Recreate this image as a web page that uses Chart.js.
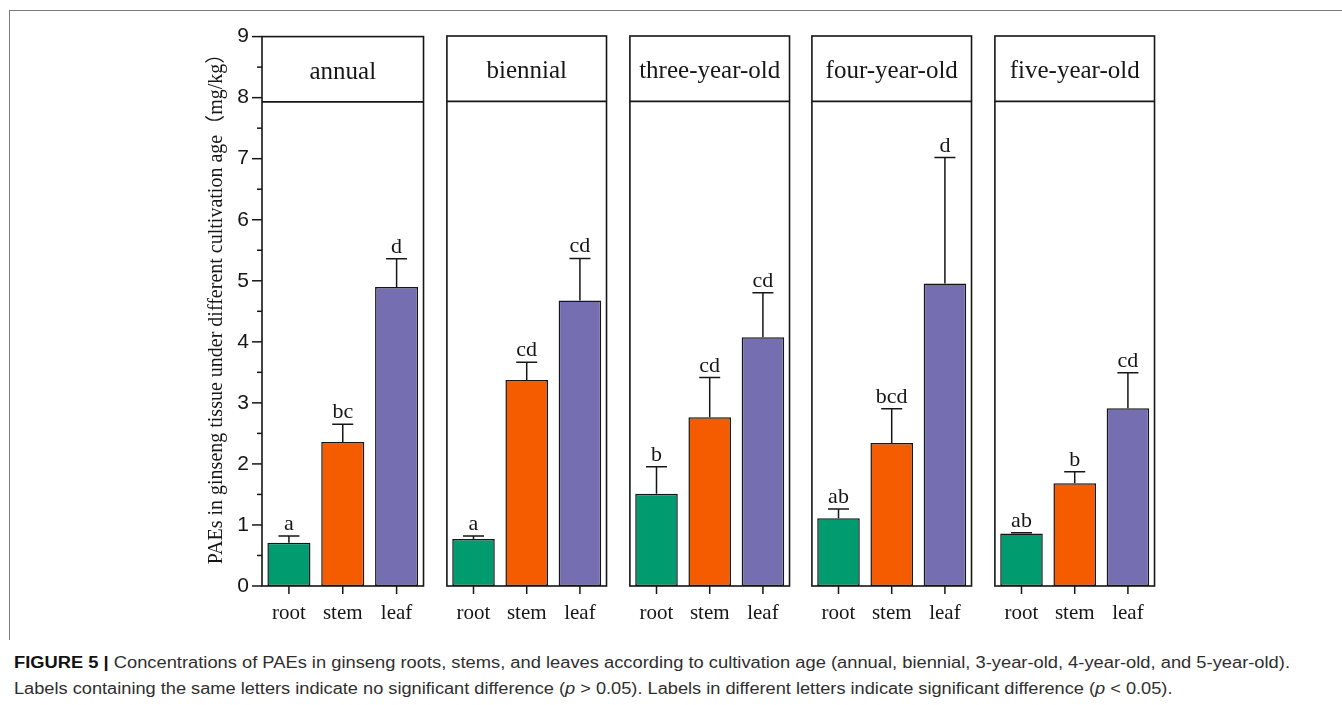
<!DOCTYPE html>
<html>
<head>
<meta charset="utf-8">
<script src="https://cdn.jsdelivr.net/npm/chart.js@4.4.1/dist/chart.umd.min.js"></script>
<style>
  html, body { margin: 0; padding: 0; background: #fff; }
  #page { position: relative; width: 1342px; height: 705px; overflow: hidden; background: #fff; }
  #page canvas { position: absolute; }
  .rule-top { position: absolute; left: 9px; top: 10px; width: 1333px; height: 1px; background: #7a7a7a; }
  .rule-left { position: absolute; left: 9px; top: 10px; width: 1px; height: 630px; background: #7a7a7a; }
  .caption { position: absolute; left: 14px; font-family: 'Liberation Sans', Arial, sans-serif; font-size: 16px;
             line-height: 26px; color: #2e2e2e; white-space: nowrap; transform-origin: 0 0; }
  .caption b { color: #111; }
</style>
</head>
<body>
<div id="page">
  <div class="rule-top"></div>
  <div class="rule-left"></div>
  <div class="caption" id="cap1" data-width="1276" style="top:650px"><b>FIGURE 5 |</b> Concentrations of PAEs in ginseng roots, stems, and leaves according to cultivation age (annual, biennial, 3-year-old, 4-year-old, and 5-year-old).</div>
  <div class="caption" id="cap2" data-width="1158" style="top:676px">Labels containing the same letters indicate no significant difference (<i>p</i> &gt; 0.05). Labels in different letters indicate significant difference (<i>p</i> &lt; 0.05).</div>
</div>
<script>
// Cultivation-age panels and tissue categories
const ages = ['annual', 'biennial', 'three-year-old', 'four-year-old', 'five-year-old'];
const tissues = ['root', 'stem', 'leaf'];

// Mean PAE concentration (mg/kg) and standard deviation per age
const rootMean = [0.71, 0.77, 1.51, 1.11, 0.86];
const rootSD   = [0.11, 0.05, 0.44, 0.15, 0.01];
const stemMean = [2.36, 3.37, 2.76, 2.34, 1.68];
const stemSD   = [0.29, 0.29, 0.65, 0.56, 0.19];
const leafMean = [4.90, 4.67, 4.07, 4.95, 2.91];
const leafSD   = [0.46, 0.69, 0.73, 2.06, 0.58];

// Significance letters per age
const rootLetters = ['a', 'a', 'b', 'ab', 'ab'];
const stemLetters = ['bc', 'cd', 'cd', 'bcd', 'b'];
const leafLetters = ['d', 'cd', 'cd', 'd', 'cd'];

// Value axis
const yTickValues = [0, 1, 2, 3, 4, 5, 6, 7, 8, 9];
const stripLevel = 7.93;   // lower edge of the panel title strip
const yTitle = 'PAEs in ginseng tissue under different cultivation age（mg/kg）';

// Layout
const tissueColors = ['#009B6E', '#F55C00', '#756EB1'];
const panelLeft = [262, 444.75, 627.5, 810.25, 993];
const panelWidth = 162;
const canvasTop = 20, canvasHeight = 620;
const yAxisWidth = 72;
const ink = '#161616';

const decor = {
  id: 'decor',
  afterDraw(chart, args, opts) {
    const i = opts.panel;
    const { ctx, chartArea: { left, right, top, bottom }, scales: { x, y } } = chart;
    const means = [rootMean[i], stemMean[i], leafMean[i]];
    const sds = [rootSD[i], stemSD[i], leafSD[i]];
    const letters = [rootLetters[i], stemLetters[i], leafLetters[i]];
    ctx.save();
    ctx.strokeStyle = ink;
    ctx.fillStyle = ink;

    // error bars and significance letters
    ctx.lineWidth = 1.5;
    ctx.font = '22px "Liberation Serif", "Times New Roman", serif';
    ctx.textAlign = 'center';
    ctx.textBaseline = 'alphabetic';
    means.forEach((m, j) => {
      const xc = x.getPixelForValue(j);
      const yBar = y.getPixelForValue(m);
      const yCap = y.getPixelForValue(m + sds[j]);
      ctx.beginPath();
      ctx.moveTo(xc, yBar);
      ctx.lineTo(xc, yCap);
      ctx.moveTo(xc - 10.5, yCap);
      ctx.lineTo(xc + 10.5, yCap);
      ctx.stroke();
      ctx.fillText(letters[j], xc, yCap - 6);
    });

    // x tick marks
    ctx.lineWidth = 1.5;
    tissues.forEach((t, j) => {
      const xc = x.getPixelForValue(j);
      ctx.beginPath();
      ctx.moveTo(xc, bottom);
      ctx.lineTo(xc, bottom + 8);
      ctx.stroke();
    });

    // panel frame and title strip
    ctx.lineWidth = 1.6;
    ctx.strokeRect(left, top, right - left, bottom - top);
    const yStrip = y.getPixelForValue(stripLevel);
    ctx.beginPath();
    ctx.moveTo(left, yStrip);
    ctx.lineTo(right, yStrip);
    ctx.stroke();
    ctx.font = '25px "Liberation Serif", "Times New Roman", serif';
    ctx.fillText(ages[i], (left + right) / 2, yStrip - 23);

    if (i === 0) {
      // major and minor value ticks
      ctx.lineWidth = 1.5;
      yTickValues.forEach((v, k) => {
        const py = y.getPixelForValue(v);
        ctx.beginPath();
        ctx.moveTo(left, py);
        ctx.lineTo(left - 10, py);
        ctx.stroke();
        if (k < yTickValues.length - 1) {
          const pm = y.getPixelForValue((v + yTickValues[k + 1]) / 2);
          ctx.beginPath();
          ctx.moveTo(left, pm);
          ctx.lineTo(left - 5, pm);
          ctx.stroke();
        }
      });
      // value axis title
      const canvasOffsetTop = parseFloat(chart.canvas.style.top);
      ctx.save();
      ctx.translate(217 - (panelLeft[0] - yAxisWidth), 304 - canvasOffsetTop);
      ctx.rotate(-Math.PI / 2);
      ctx.font = '20px "Liberation Serif", "Times New Roman", "Noto Sans CJK SC", serif';
      ctx.textBaseline = 'middle';
      ctx.fillText(yTitle, 0, 0);
      ctx.restore();
    }
    ctx.restore();
  }
};

const page = document.getElementById('page');
ages.forEach((age, i) => {
  const first = i === 0;
  const canvas = document.createElement('canvas');
  const left = first ? panelLeft[i] - yAxisWidth : panelLeft[i] - 4;
  const width = first ? yAxisWidth + panelWidth + 4 : panelWidth + 8;
  // the first panel reserves extra room above for its top tick label
  const top = first ? canvasTop - 9 : canvasTop;
  const height = first ? canvasHeight + 9 : canvasHeight;
  canvas.width = width;
  canvas.height = height;
  canvas.style.left = left + 'px';
  canvas.style.top = top + 'px';
  canvas.style.width = width + 'px';
  canvas.style.height = height + 'px';
  page.appendChild(canvas);

  new Chart(canvas, {
    type: 'bar',
    data: {
      labels: tissues,
      datasets: [{
        data: [rootMean[i], stemMean[i], leafMean[i]],
        backgroundColor: tissueColors,
        borderColor: ink,
        borderWidth: 1.5,
        borderSkipped: false,
        barPercentage: 0.8,
        categoryPercentage: 1
      }]
    },
    options: {
      responsive: false,
      animation: false,
      devicePixelRatio: 1,
      events: [],
      layout: { padding: { left: first ? 0 : 4, right: 4, top: first ? 4 : 16, bottom: 0 } },
      plugins: {
        legend: { display: false },
        tooltip: { enabled: false },
        decor: { panel: i }
      },
      scales: {
        x: {
          grid: { display: false, drawTicks: false },
          border: { display: false },
          ticks: { font: { family: '"Liberation Serif", "Times New Roman", serif', size: 21 }, color: ink, padding: 15, maxRotation: 0, autoSkip: false },
          afterFit: s => { s.height = 54; }
        },
        y: {
          display: first,
          min: 0,
          max: 9,
          afterBuildTicks: s => { s.ticks = yTickValues.map(v => ({ value: v })); },
          grid: { display: false, drawTicks: false },
          border: { display: false },
          ticks: { font: { family: '"Liberation Sans", Arial, sans-serif', size: 21 }, color: ink, padding: 13 },
          afterFit: s => { s.width = first ? yAxisWidth : 0; }
        }
      }
    },
    plugins: [decor]
  });
});

// fit each caption line to its measured span
document.querySelectorAll('.caption').forEach(el => {
  const target = parseFloat(el.dataset.width);
  const natural = el.scrollWidth;
  el.style.transform = 'scaleX(' + (target / natural) + ')';
});
</script>
</body>
</html>
